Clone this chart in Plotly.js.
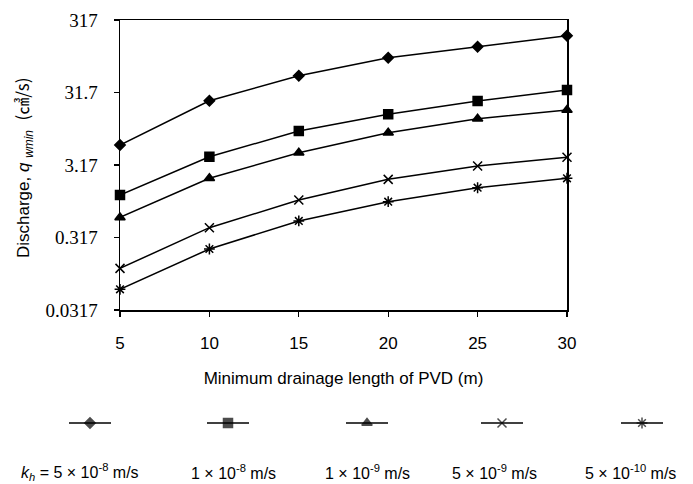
<!DOCTYPE html>
<html><head><meta charset="utf-8">
<script src="https://cdn.plot.ly/plotly-3.0.1.min.js"></script>
<style>html,body{margin:0;padding:0;background:#fff}#chart{width:693px;height:484px}</style>
</head><body><div id="chart"></div>
<script>
const lengths = [5, 10, 15, 20, 25, 30];
const q_5e8  = [5.98, 24.4, 54.1, 95.7, 136, 192];
const q_1e8  = [1.22, 4.12, 9.33, 15.9, 24.2, 34.3];
const q_1e9  = [0.60, 2.08, 4.69, 8.84, 13.8, 18.2];
const q_5e9  = [0.119, 0.433, 1.04, 2.01, 3.07, 4.05];
const q_5e10 = [0.0612, 0.220, 0.536, 0.989, 1.54, 2.08];
const yTicks = [0.0317, 0.317, 3.17, 31.7, 317];
const yTickText = ['0.0317', '0.317', '3.17', '31.7', '317'];
const seriesNames = ['k<sub>h</sub> = 5×10<sup>-8</sup> m/s','1×10<sup>-8</sup> m/s','1×10<sup>-9</sup> m/s','5×10<sup>-9</sup> m/s','5×10<sup>-10</sup> m/s'];
const legendLabels = ['<i>k<sub>h</sub></i> = 5 × 10<sup>-8</sup> m/s','1 × 10<sup>-8</sup> m/s','1 × 10<sup>-9</sup> m/s','5 × 10<sup>-9</sup> m/s','5 × 10<sup>-10</sup> m/s'];
const series = [q_5e8, q_1e8, q_1e9, q_5e9, q_5e10];
const symbols = ['diamond','square','triangle-up','x-thin-open','asterisk-open'];
const sizes = [8, 9, 9, 9, 9];

// legend layout (pixels in page)
const legCenters = [90, 228, 367, 502, 642];
const legLabelX = [80, 233, 367, 494, 630];
const legSampleY = 423, legLabelY = 472;
const W = 693, H = 484;
const sansFont = 'Liberation Sans, Arial, sans-serif';

const traces = series.map((s, i) => ({
  x: lengths, y: s, type: 'scatter', mode: 'lines+markers', name: seriesNames[i],
  line: {color: '#000', width: 1.5}, cliponaxis: false,
  marker: {symbol: symbols[i], size: sizes[i], color: '#000', line: {color: '#000', width: 1.5}},
  xaxis: 'x', yaxis: 'y', showlegend: false
}));

// legend samples drawn on an overlay axis spanning the page
series.forEach((s, i) => {
  const c = legCenters[i];
  traces.push({
    x: [c - 21, c, c + 21], y: [H - legSampleY, H - legSampleY, H - legSampleY],
    type: 'scatter', mode: 'lines+markers', xaxis: 'x2', yaxis: 'y2', showlegend: false,
    line: {color: '#000', width: 1.5}, cliponaxis: false,
    marker: {symbol: symbols[i], size: [0, sizes[i], 0], color: '#000', line: {color: '#000', width: 1.5}},
    hoverinfo: 'skip'
  });
});

const annotations = legendLabels.map((t, i) => ({
  text: t, x: legLabelX[i], y: H - legLabelY, xref: 'x2', yref: 'y2', showarrow: false,
  xanchor: 'center', yanchor: 'middle',
  font: {family: sansFont, size: 16, color: '#000'}
}));
annotations.push({
  text: 'Discharge, <i>q</i> <sub><i>wmin</i></sub>  <span style="font-family:\'Noto Sans CJK JP\'">(㎤/s)</span>', textangle: -90,
  x: 22, y: H - 168, xref: 'x2', yref: 'y2', showarrow: false,
  xanchor: 'center', yanchor: 'middle',
  font: {family: sansFont, size: 17, color: '#000'}
});

const layout = {
  width: W, height: H,
  margin: {l: 0, r: 0, t: 0, b: 0},
  paper_bgcolor: '#fff', plot_bgcolor: 'rgba(0,0,0,0)',
  showlegend: false,
  xaxis: {
    domain: [120 / W, 567 / W], range: [5, 30], tickvals: lengths,
    ticks: 'outside', ticklen: 5, tickwidth: 1.2, tickcolor: '#000',
    ticklabelstandoff: 12,
    showline: true, linecolor: '#000', linewidth: 1.5, mirror: true,
    showgrid: false, zeroline: false,
    tickfont: {family: sansFont, size: 17, color: '#000'},
    title: {text: 'Minimum drainage length of PVD (m)', standoff: 20,
      font: {family: sansFont, size: 17, color: '#000'}}
  },
  yaxis: {
    domain: [(H - 310) / H, (H - 20) / H], type: 'log',
    range: [Math.log10(0.0317), Math.log10(317)],
    tickvals: yTicks, ticktext: yTickText,
    ticks: 'outside', ticklen: 5, tickwidth: 1.2, tickcolor: '#000',
    ticklabelstandoff: 12,
    showline: true, linecolor: '#000', linewidth: 1.5, mirror: true,
    showgrid: false, zeroline: false,
    tickfont: {family: 'Liberation Serif, Times New Roman, serif', size: 19, color: '#000'}
  },
  // inner halves of the crossing tick marks
  xaxis3: {
    domain: [120 / W, 567 / W], range: [5, 30], tickvals: lengths, overlaying: 'x', anchor: 'y', side: 'bottom',
    ticks: 'inside', ticklen: 4, tickwidth: 1.2, tickcolor: '#000', showticklabels: false,
    showline: false, showgrid: false, zeroline: false
  },
  yaxis3: {
    domain: [(H - 310) / H, (H - 20) / H], type: 'log', overlaying: 'y', anchor: 'x', side: 'left',
    range: [Math.log10(0.0317), Math.log10(317)], tickvals: yTicks,
    ticks: 'inside', ticklen: 4, tickwidth: 1.2, tickcolor: '#000', showticklabels: false,
    showline: false, showgrid: false, zeroline: false
  },
  xaxis2: {domain: [0, 1], range: [0, W], visible: false, fixedrange: true, anchor: 'y2'},
  yaxis2: {domain: [0, 1], range: [0, H], visible: false, fixedrange: true, anchor: 'x2'},
  annotations: annotations
};

Plotly.newPlot('chart', traces, layout, {displayModeBar: false, staticPlot: true});
</script></body></html>
